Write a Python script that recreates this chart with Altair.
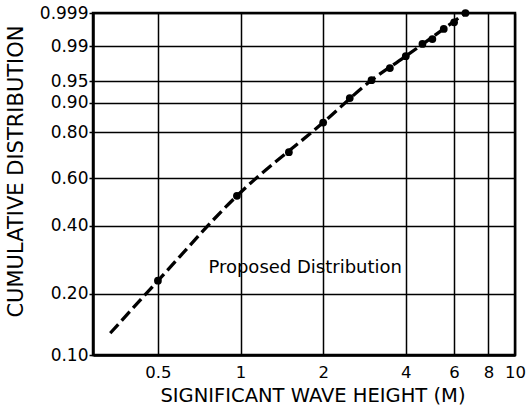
import math
import altair as alt
import pandas as pd

# Observed points (significant wave height in m, cumulative probability)
obs_height = [0.5, 0.97, 1.5, 2.0, 2.5, 3.0, 3.5, 4.0, 4.6, 5.0, 5.5, 6.0, 6.6]
obs_prob = [0.230, 0.522, 0.716, 0.836, 0.913, 0.952, 0.9705, 0.983, 0.9912, 0.9934, 0.9966, 0.9979, 0.999]

# Proposed distribution curve
fit_height = [0.335, 0.5, 0.97, 2.0, 3.0, 4.0, 6.6]
fit_prob = [0.1285, 0.230, 0.522, 0.836, 0.952, 0.983, 0.999]

# Axis ticks
y_ticks = [0.10, 0.20, 0.40, 0.60, 0.80, 0.90, 0.95, 0.99, 0.999]
x_ticks = [0.5, 1, 2, 4, 6, 8, 10]

# Annotation
label_text = ["Proposed Distribution"]
label_height = [1.72]
label_prob = [0.249]


def weib(p):
    return math.log(-math.log(1 - p))


FONT = "DejaVu Sans"
WEIB = "log(-log(1 - datum.p))"

x_scale = alt.Scale(type="log", domain=[0.29, 10], nice=False)
y_scale = alt.Scale(domain=[weib(0.10), weib(0.999)], nice=False, zero=False)

x_axis = alt.Axis(
    values=x_ticks, format="~g", title="SIGNIFICANT WAVE HEIGHT (M)",
    grid=True, gridColor="black", gridOpacity=1, gridWidth=1.5,
    ticks=False, domain=True, domainColor="black", domainWidth=2.5,
    labelFont=FONT, labelFontSize=16.5, labelColor="black", labelPadding=9,
    labelOverlap=False, labelFlush=False,
    titleFont=FONT, titleFontSize=19.5, titleFontWeight="normal", titleColor="black",
    titleX=219.5, titleY=46, titleBaseline="alphabetic", titleAlign="center",
)
y_axis = alt.Axis(
    values=[weib(p) for p in y_ticks],
    labelExpr="(1 - exp(-exp(datum.value))) > 0.995 ? format(1 - exp(-exp(datum.value)), '.3f') : format(1 - exp(-exp(datum.value)), '.2f')",
    title="CUMULATIVE DISTRIBUTION",
    grid=True, gridColor="black", gridOpacity=1, gridWidth=1.5,
    ticks=True, tickSize=4, tickColor="black", tickWidth=1.5,
    domain=True, domainColor="black", domainWidth=2.5,
    labelFont=FONT, labelFontSize=17, labelColor="black", labelPadding=1,
    labelOverlap=False,
    titleFont=FONT, titleFontSize=21, titleFontWeight="normal", titleColor="black",
    titleX=-77, titleY=158, titleBaseline="middle", titleAlign="center", titleAngle=-90,
)

obs_df = pd.DataFrame({"h": obs_height, "p": obs_prob})
fit_df = pd.DataFrame({"h": fit_height, "p": fit_prob})
lab_df = pd.DataFrame({"h": label_height, "p": label_prob, "t": label_text})

line = alt.Chart(fit_df).transform_calculate(w=WEIB).mark_line(
    color="black", strokeWidth=3.3, strokeDash=[12, 5], interpolate="monotone"
).encode(
    x=alt.X("h:Q", scale=x_scale, axis=x_axis),
    y=alt.Y("w:Q", scale=y_scale, axis=y_axis),
)

dots = alt.Chart(obs_df).transform_calculate(w=WEIB).mark_circle(
    color="black", opacity=1, size=60, clip=False
).encode(
    x=alt.X("h:Q", scale=x_scale, axis=x_axis),
    y=alt.Y("w:Q", scale=y_scale, axis=y_axis),
)

text = alt.Chart(lab_df).transform_calculate(w=WEIB).mark_text(
    font=FONT, fontSize=18, color="black", align="center", baseline="alphabetic"
).encode(
    x=alt.X("h:Q", scale=x_scale, axis=x_axis),
    y=alt.Y("w:Q", scale=y_scale, axis=y_axis),
    text="t:N",
)

chart = alt.layer(line, dots, text).properties(
    width=422, height=342,
    autosize=alt.AutoSizeParams(type="none"),
    padding={"left": 93, "top": 13, "right": 13, "bottom": 53},
    background="white",
).configure_view(stroke="black", strokeWidth=2.5)

chart.save("out.html", embed_options={"renderer": "svg", "actions": False})
